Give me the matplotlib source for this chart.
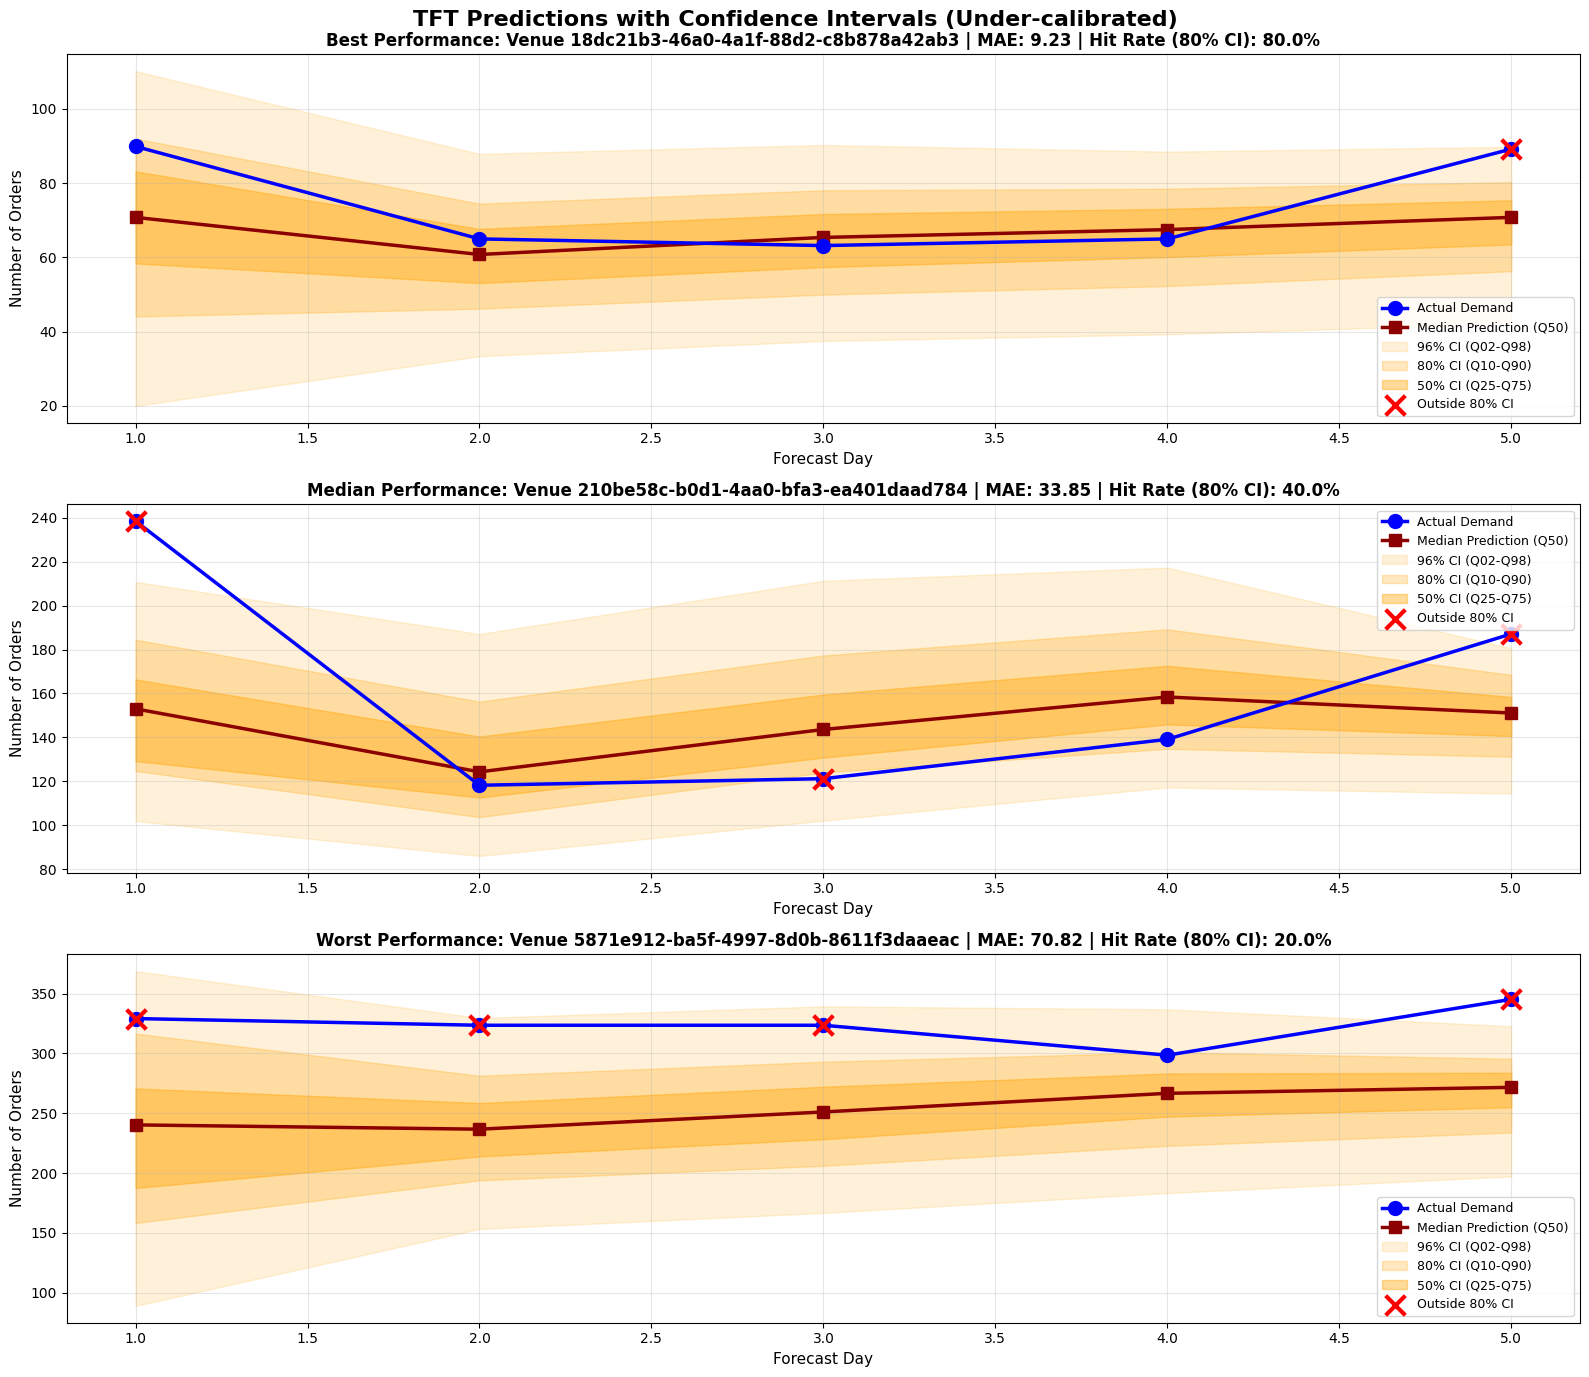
import numpy as np
import matplotlib
matplotlib.use('Agg')
import matplotlib.pyplot as plt

days = [1, 2, 3, 4, 5]

# ---- panel data ----
titles = [
    'Best Performance: Venue 18dc21b3-46a0-4a1f-88d2-c8b878a42ab3 | MAE: 9.23 | Hit Rate (80% CI): 80.0%',
    'Median Performance: Venue 210be58c-b0d1-4aa0-bfa3-ea401daad784 | MAE: 33.85 | Hit Rate (80% CI): 40.0%',
    'Worst Performance: Venue 5871e912-ba5f-4997-8d0b-8611f3daaeac | MAE: 70.82 | Hit Rate (80% CI): 20.0%',
]

best_actual = [89.9, 65.0, 63.2, 65.0, 89.2]
best_q02 = [20.0, 33.4, 37.5, 39.3, 42.2]
best_q10 = [44.1, 46.2, 50.0, 52.3, 56.3]
best_q25 = [58.4, 53.1, 57.4, 60.1, 63.5]
best_q50 = [70.8, 60.8, 65.4, 67.5, 70.8]
best_q75 = [83.2, 67.7, 71.7, 73.1, 75.4]
best_q90 = [92.0, 74.5, 78.1, 78.5, 80.3]
best_q98 = [110.2, 87.9, 90.3, 88.5, 89.8]

med_actual = [238.5, 118.2, 121.2, 139.1, 187.1]
med_q02 = [101.9, 86.0, 102.1, 117.2, 114.4]
med_q10 = [124.7, 103.7, 124.0, 134.8, 131.2]
med_q25 = [129.2, 112.6, 130.8, 145.9, 140.6]
med_q50 = [153.0, 124.3, 143.6, 158.4, 151.1]
med_q75 = [166.4, 140.4, 159.5, 172.6, 158.4]
med_q90 = [184.5, 156.3, 177.3, 189.2, 168.5]
med_q98 = [210.8, 187.1, 211.3, 217.3, 180.6]

worst_actual = [329.2, 323.6, 323.6, 298.6, 345.3]
worst_q02 = [88.9, 153.3, 166.7, 183.3, 197.2]
worst_q10 = [158.3, 193.9, 206.1, 222.8, 233.9]
worst_q25 = [187.5, 213.9, 228.3, 247.2, 255.0]
worst_q50 = [240.3, 236.7, 251.1, 266.7, 271.7]
worst_q75 = [270.8, 258.6, 272.2, 283.3, 283.9]
worst_q90 = [316.7, 281.4, 293.1, 301.0, 295.6]
worst_q98 = [368.9, 329.7, 339.4, 336.9, 322.8]

panels = [
    (best_actual, best_q02, best_q10, best_q25, best_q50, best_q75, best_q90, best_q98, 'lower right'),
    (med_actual, med_q02, med_q10, med_q25, med_q50, med_q75, med_q90, med_q98, 'upper right'),
    (worst_actual, worst_q02, worst_q10, worst_q25, worst_q50, worst_q75, worst_q90, worst_q98, 'lower right'),
]

fig, axes = plt.subplots(3, 1, figsize=(16, 14))
for ax, title, (act, q02, q10, q25, q50, q75, q90, q98, loc) in zip(axes, titles, panels):
    x = np.array(days)
    act = np.array(act)
    ax.plot(x, act, 'o-', color='blue', lw=2.5, ms=10, label='Actual Demand', zorder=4)
    ax.plot(x, q50, 's-', color='darkred', lw=2.5, ms=8, label='Median Prediction (Q50)', zorder=3)
    ax.fill_between(x, q02, q98, color='orange', alpha=0.15, label='96% CI (Q02-Q98)')
    ax.fill_between(x, q10, q90, color='orange', alpha=0.25, label='80% CI (Q10-Q90)')
    ax.fill_between(x, q25, q75, color='orange', alpha=0.4, label='50% CI (Q25-Q75)')
    out = (act < np.array(q10)) | (act > np.array(q90))
    ax.scatter(x[out], act[out], marker='x', s=200, color='red', linewidths=3,
               label='Outside 80% CI', zorder=5)
    ax.set_title(title, fontsize=12, fontweight='bold')
    ax.set_xlabel('Forecast Day', fontsize=11)
    ax.set_ylabel('Number of Orders', fontsize=11)
    ax.grid(True, alpha=0.3)
    ax.legend(loc=loc, fontsize=9)

fig.suptitle('TFT Predictions with Confidence Intervals (Under-calibrated)', fontsize=16, fontweight='bold')
fig.tight_layout()
fig.savefig('out.png', dpi=100, bbox_inches='tight')
plt.close(fig)
